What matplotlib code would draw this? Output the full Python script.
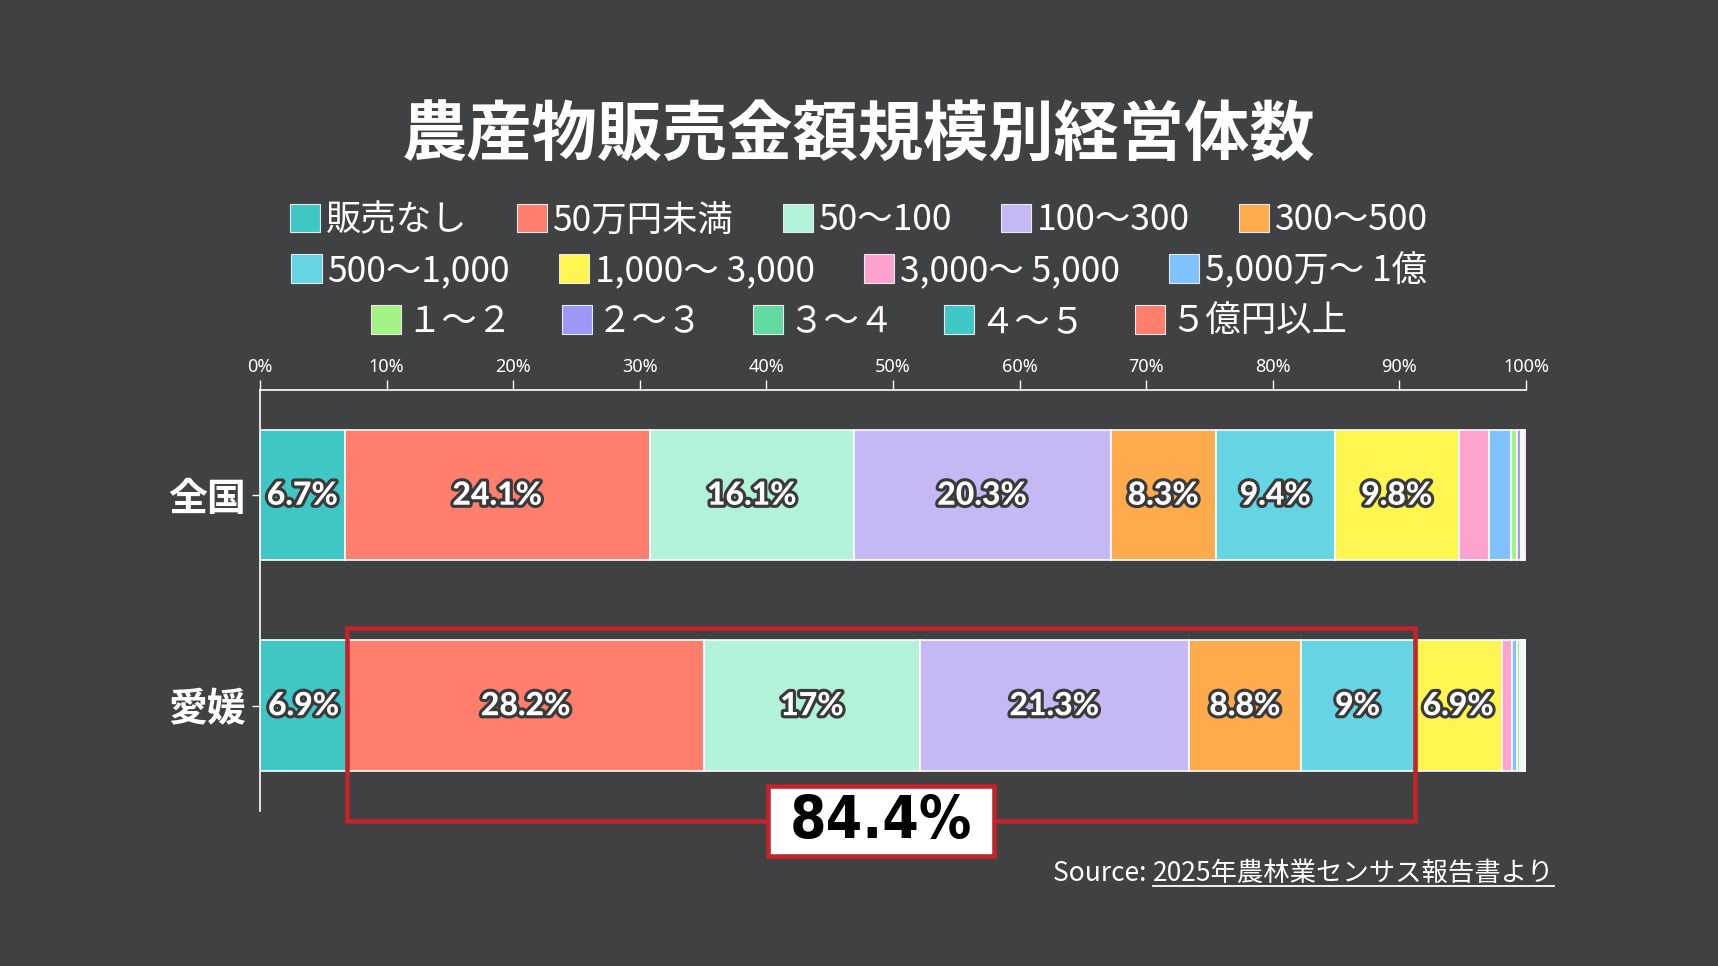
import matplotlib.pyplot as plt
import matplotlib.patheffects as pe
from matplotlib.patches import Patch, Rectangle

plt.rcParams['font.family'] = ['Noto Sans CJK JP', 'DejaVu Sans']

BG = "#404143"

regions = ["全国", "愛媛"]
classes = ["販売なし", "50万円未満", "50～100", "100～300", "300～500",
           "500～1,000", "1,000～ 3,000", "3,000～ 5,000", "5,000万～ 1億",
           "１～２", "２～３", "３～４", "４～５", "５億円以上"]
colors = ["#3fc7c6", "#ff7e6e", "#b1f2d8", "#c5b8f5", "#ffaa4d",
          "#65d4e3", "#fff550", "#ffa2d0", "#80c1ff",
          "#a3f384", "#9d97f5", "#62d9a1", "#3fc7c6", "#ff7e6e"]
zenkoku = [6.7, 24.1, 16.1, 20.3, 8.3, 9.4, 9.8, 2.4, 1.7, 0.5, 0.3, 0.15, 0.1, 0.15]
ehime = [6.9, 28.2, 17, 21.3, 8.8, 9, 6.9, 0.8, 0.4, 0.2, 0.2, 0.1, 0.1, 0.1]
ticks = [0, 10, 20, 30, 40, 50, 60, 70, 80, 90, 100]
legend_rows = [[0, 1, 2, 3, 4], [5, 6, 7, 8], [9, 10, 11, 12, 13]]

# 愛媛: 50万円未満 .. 500～1,000 highlighted
hl_first, hl_last = 1, 5
hl_label = "84.4%"

fig = plt.figure(figsize=(17.18, 9.66), dpi=100, facecolor=BG)
ax = fig.add_axes([0.1513, 0.1605, 0.7369, 0.4358], facecolor=BG)

outline = [pe.withStroke(linewidth=4.5, foreground="#3a3a3a")]
for row, vals in enumerate([zenkoku, ehime]):
    left = 0
    for i, v in enumerate(vals):
        ax.barh(row, v, left=left, height=0.62, color=colors[i],
                edgecolor="white", linewidth=1.2)
        if v >= 5:
            ax.text(left + v / 2, row, f"{v:g}%", ha="center", va="center",
                    color="white", fontsize=23, fontweight="black",
                    family=["Lato", "DejaVu Sans"], path_effects=outline)
        left += v

ax.set_xlim(0, 100)
ax.set_ylim(1.5, -0.5)
ax.set_yticks([0, 1])
ax.set_yticklabels(regions, fontsize=28, fontweight="bold", color="white")
ax.set_xticks(ticks)
ax.set_xticklabels([f"{t}%" for t in ticks], fontsize=13, color="white",
                   family=["Noto Sans", "DejaVu Sans"])
ax.xaxis.tick_top()
ax.tick_params(axis="x", colors="white", length=7, width=1, pad=3, labelcolor="white")
ax.tick_params(axis="y", colors="white", length=6, width=1, pad=4)
for side in ["right", "bottom"]:
    ax.spines[side].set_visible(False)
for side in ["top", "left"]:
    ax.spines[side].set_color("white")
    ax.spines[side].set_linewidth(1.2)

# highlight box
start = sum(ehime[:hl_first])
span = sum(ehime[hl_first:hl_last + 1])
red = "#c3232b"
ax.add_patch(Rectangle((start, 0.63), span, 0.917, fill=False,
                       edgecolor=red, linewidth=3.3, clip_on=False, zorder=5))
box_w, box_h = 17.9, 0.334
cx = start + span / 2
ax.add_patch(Rectangle((cx - box_w / 2, 1.547 - box_h / 2), box_w, box_h,
                       facecolor="white", edgecolor=red, linewidth=3.3,
                       clip_on=False, zorder=6))
ax.text(cx, 1.55, hl_label, ha="center", va="center", fontsize=42,
        fontweight="bold", fontstretch="condensed", color="black", zorder=7,
        family=["DejaVu Sans"])

# title
fig.text(0.5, 0.86, "農産物販売金額規模別経営体数", ha="center", va="center",
         fontsize=47, fontweight="bold", color="white")

# legend: three centered rows
row_y = [0.772, 0.720, 0.667]
for idxs, y in zip(legend_rows, row_y):
    handles = [Patch(facecolor=colors[i], edgecolor="#e8e8e8", linewidth=0.8)
               for i in idxs]
    fig.legend(handles, [classes[i] for i in idxs], loc="center",
               bbox_to_anchor=(0.5, y), ncol=len(idxs), frameon=False,
               fontsize=25.5, labelcolor="white", handlelength=0.85,
               handleheight=0.85, handletextpad=0.15, columnspacing=1.4,
               borderpad=0)

# source with underlined part
src1 = fig.text(0.9045, 0.088, "2025年農林業センサス報告書より", ha="right",
                va="baseline", fontsize=19, color="white")
fig.canvas.draw()
bb = src1.get_window_extent()
x0, x1 = bb.x0 / fig.bbox.width, bb.x1 / fig.bbox.width
fig.text(x0, 0.088, "Source: ", ha="right", va="baseline", fontsize=19, color="white")
fig.add_artist(plt.Line2D([x0, x1], [0.083, 0.083], color="white", linewidth=1.3))

fig.savefig("out.png", dpi=100, facecolor=BG)
